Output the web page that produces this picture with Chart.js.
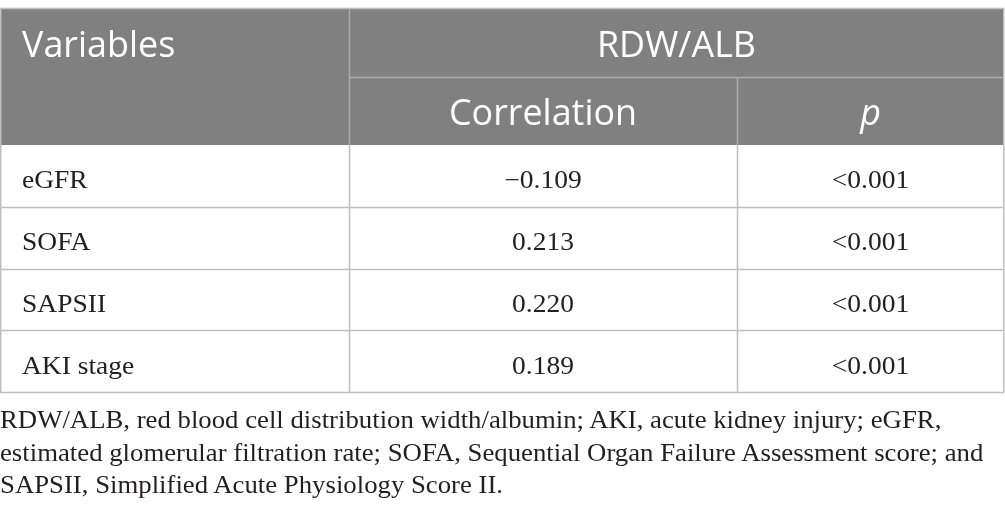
<!DOCTYPE html>
<html>
<head>
<meta charset="utf-8">
<script src="https://cdn.jsdelivr.net/npm/chart.js@4.4.1/dist/chart.umd.min.js"></script>
<style>
  html, body { margin: 0; padding: 0; background: #fff; }
  #wrap { position: relative; width: 1005px; height: 523px; overflow: hidden; }
  #tbl { position: absolute; left: 0; top: 0; }
  #note {
    position: absolute; left: 0; top: 404px; width: 940px;
    font-family: "Liberation Serif", "DejaVu Serif", serif;
    font-size: 25px; line-height: 32.5px; color: #231f20; margin: 0;
    white-space: nowrap;
    transform: scaleX(1.07); transform-origin: 0 0;
  }
</style>
</head>
<body>
<div id="wrap">
  <canvas id="tbl" width="1005" height="523"></canvas>
  <p id="note">RDW/ALB, red blood cell distribution width/albumin; AKI, acute kidney injury; eGFR,<br>estimated glomerular filtration rate; SOFA, Sequential Organ Failure Assessment score; and<br>SAPSII, Simplified Acute Physiology Score II.</p>
</div>
<script>
// table values
const variables = ['eGFR', 'SOFA', 'SAPSII', 'AKI stage'];
const correlation = [-0.109, 0.213, 0.220, 0.189];
const pValues = ['<0.001', '<0.001', '<0.001', '<0.001'];

// header labels
const headerTop = ['Variables', 'RDW/ALB'];
const headerSub = ['Correlation', 'p'];

const fmt = v => v.toFixed(3).replace('-', '\u2212');

// column edges in pixels (layout only)
const colX = [0, 349, 737, 1004];
const headTop = 8, headMid = 77;
const lineCol = '#bfbfbf';
const headFill = '#808080';
const headLine = '#ababab';
const textCol = '#231f20';

// draw text with a horizontal stretch
function putText(ctx, text, x, y, sx, align) {
    ctx.save();
    ctx.translate(x, y);
    ctx.scale(sx, 1);
    ctx.textAlign = align;
    ctx.fillText(text, 0, 0);
    ctx.restore();
}

const tablePlugin = {
    id: 'tableCells',
    afterDatasetsDraw(chart) {
        const { ctx, chartArea: a, scales } = chart;
        const y = scales.y;
        const half = (y.getPixelForValue(1) - y.getPixelForValue(0)) / 2;
        ctx.save();

        // header block
        ctx.fillStyle = headFill;
        ctx.fillRect(colX[0], headTop, colX[3] - colX[0], a.top - headTop);

        ctx.strokeStyle = headLine;
        ctx.lineWidth = 1.5;
        ctx.beginPath();
        ctx.moveTo(colX[1] + 0.5, headTop); ctx.lineTo(colX[1] + 0.5, a.top);
        ctx.moveTo(colX[1], headMid + 0.5); ctx.lineTo(colX[3], headMid + 0.5);
        ctx.moveTo(colX[2] + 0.5, headMid); ctx.lineTo(colX[2] + 0.5, a.top);
        ctx.stroke();

        ctx.fillStyle = '#ffffff';
        ctx.textBaseline = 'alphabetic';
        ctx.font = '37px "Open Sans", sans-serif';
        putText(ctx, headerTop[0], 22, 57, 0.97, 'left');
        putText(ctx, headerTop[1], (colX[1] + colX[3]) / 2, 57, 0.97, 'center');
        putText(ctx, headerSub[0], (colX[1] + colX[2]) / 2, 125, 0.97, 'center');
        ctx.font = 'italic 37px "Open Sans", sans-serif';
        putText(ctx, headerSub[1], (colX[2] + colX[3]) / 2, 125, 0.97, 'center');

        // body rows
        ctx.fillStyle = textCol;
        ctx.font = '25px "Liberation Serif", serif';
        variables.forEach((name, i) => {
            const by = y.getPixelForValue(i) + 12.5;
            putText(ctx, name, 22, by, 1.1, 'left');
            putText(ctx, fmt(correlation[i]), (colX[1] + colX[2]) / 2, by, 1.1, 'center');
            putText(ctx, pValues[i], (colX[2] + colX[3]) / 2, by, 1.1, 'center');
        });

        // grid lines
        ctx.strokeStyle = lineCol;
        ctx.lineWidth = 1.5;
        ctx.beginPath();
        variables.forEach((name, i) => {
            const ly = Math.round(y.getPixelForValue(i) + half) + 0.5;
            ctx.moveTo(colX[0], ly); ctx.lineTo(colX[3], ly);
        });
        ctx.moveTo(colX[1] + 0.5, a.top); ctx.lineTo(colX[1] + 0.5, a.bottom);
        ctx.moveTo(colX[2] + 0.5, a.top); ctx.lineTo(colX[2] + 0.5, a.bottom);
        // outer border
        ctx.moveTo(colX[0], headTop + 0.5); ctx.lineTo(colX[3], headTop + 0.5);
        ctx.moveTo(colX[0] + 0.75, headTop); ctx.lineTo(colX[0] + 0.75, a.bottom);
        ctx.moveTo(colX[3] - 0.25, headTop); ctx.lineTo(colX[3] - 0.25, a.bottom);
        ctx.stroke();

        ctx.restore();
    }
};

const ctx = document.getElementById('tbl').getContext('2d');

const tableChart = new Chart(ctx, {
    type: 'bar',
    data: {
        labels: variables,
        datasets: [{
            label: 'Correlation',
            data: correlation,
            backgroundColor: 'rgba(0,0,0,0)',
            borderWidth: 0
        }]
    },
    options: {
        indexAxis: 'y',
        responsive: false,
        animation: false,
        devicePixelRatio: 1,
        layout: { padding: { top: 145, bottom: 131, left: 0, right: 1 } },
        plugins: { legend: { display: false }, tooltip: { enabled: false } },
        scales: {
            x: { display: false, min: -1, max: 1 },
            y: { display: false }
        }
    },
    plugins: [tablePlugin]
});
</script>
</body>
</html>
